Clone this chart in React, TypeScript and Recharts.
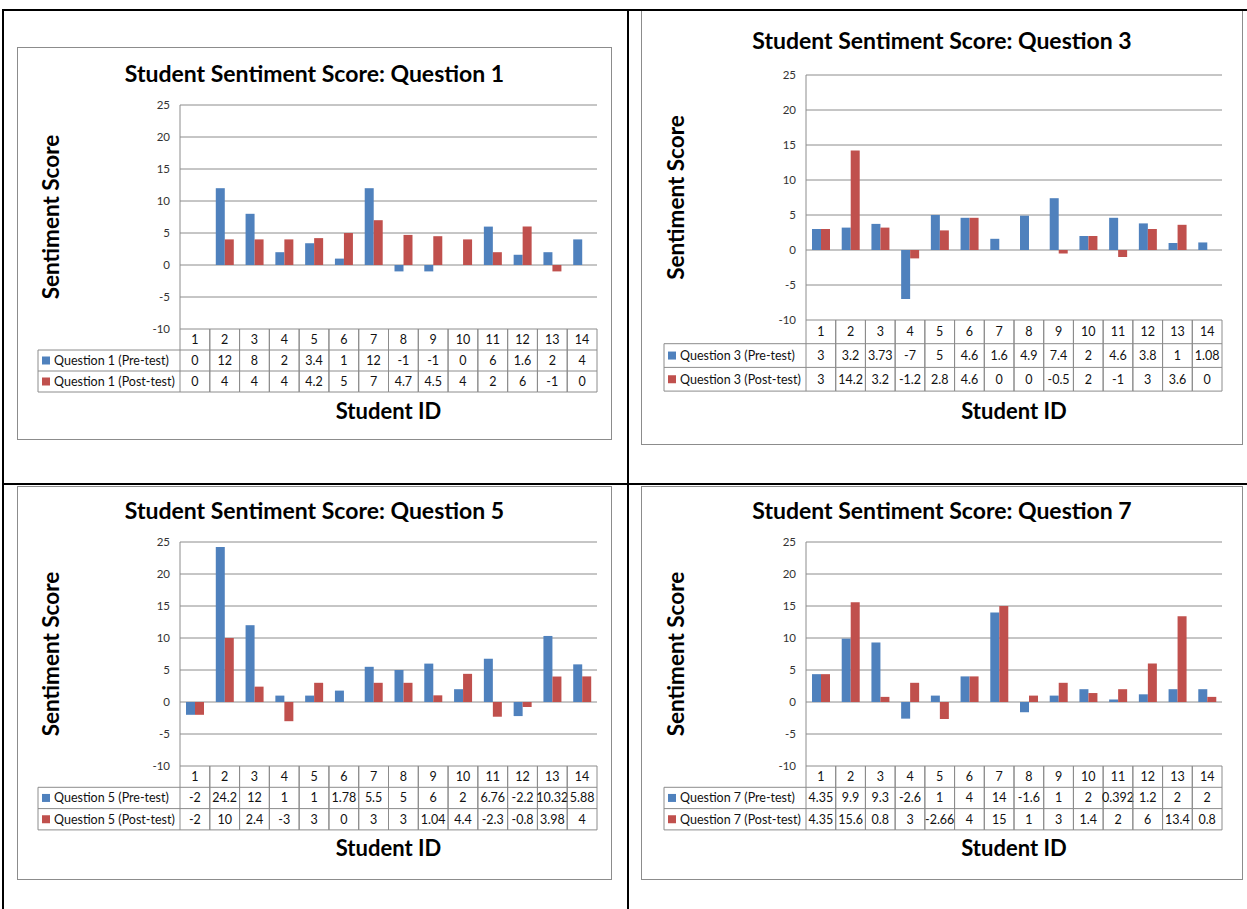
import { Bar, BarChart, CartesianGrid, Label, XAxis, YAxis } from "recharts";

const FONT = "Lato, 'Open Sans', sans-serif";
const GRAY = "#8c8c8c";
const BLUE = "#4F81BD";
const RED = "#C0504D";

const STUDENT_IDS = [1, 2, 3, 4, 5, 6, 7, 8, 9, 10, 11, 12, 13, 14];
const Y_TICKS = [-10, -5, 0, 5, 10, 15, 20, 25];

const Q1_PRE = [0, 12, 8, 2, 3.4, 1, 12, -1, -1, 0, 6, 1.6, 2, 4];
const Q1_POST = [0, 4, 4, 4, 4.2, 5, 7, 4.7, 4.5, 4, 2, 6, -1, 0];
const Q3_PRE = [3, 3.2, 3.73, -7, 5, 4.6, 1.6, 4.9, 7.4, 2, 4.6, 3.8, 1, 1.08];
const Q3_POST = [3, 14.2, 3.2, -1.2, 2.8, 4.6, 0, 0, -0.5, 2, -1, 3, 3.6, 0];
const Q5_PRE = [-2, 24.2, 12, 1, 1, 1.78, 5.5, 5, 6, 2, 6.76, -2.2, 10.32, 5.88];
const Q5_POST = [-2, 10, 2.4, -3, 3, 0, 3, 3, 1.04, 4.4, -2.3, -0.8, 3.98, 4];
const Q7_PRE = [4.35, 9.9, 9.3, -2.6, 1, 4, 14, -1.6, 1, 2, 0.392, 1.2, 2, 2];
const Q7_POST = [4.35, 15.6, 0.8, 3, -2.66, 4, 15, 1, 3, 1.4, 2, 6, 13.4, 0.8];

const Y_AXIS_W = 40;
const TABLE_FONT = 12.5;

interface Box { x: number; y: number; w: number; h: number }
interface Plot { left: number; top: number; right: number; bottom: number }
interface PanelSpec {
  question: number;
  pre: number[];
  post: number[];
  box: Box;
  plot: Plot;
  titleY: number;
  yTitleX: number;
  xTitleY: number;
  legendLeft: number;
  rowH: number;
}

const PANELS: PanelSpec[] = [
  {
    question: 1, pre: Q1_PRE, post: Q1_POST,
    box: { x: 17, y: 47, w: 595, h: 393 },
    plot: { left: 180, top: 105, right: 597, bottom: 329 },
    titleY: 73, yTitleX: 50, xTitleY: 410, legendLeft: 38, rowH: 21,
  },
  {
    question: 3, pre: Q3_PRE, post: Q3_POST,
    box: { x: 641, y: 9, w: 602, h: 436 },
    plot: { left: 806, top: 75, right: 1222, bottom: 320 },
    titleY: 40, yTitleX: 675, xTitleY: 410, legendLeft: 664, rowH: 23.7,
  },
  {
    question: 5, pre: Q5_PRE, post: Q5_POST,
    box: { x: 17, y: 486, w: 595, h: 394 },
    plot: { left: 180, top: 542, right: 597, bottom: 766 },
    titleY: 510, yTitleX: 50, xTitleY: 847, legendLeft: 38, rowH: 21.3,
  },
  {
    question: 7, pre: Q7_PRE, post: Q7_POST,
    box: { x: 641, y: 486, w: 602, h: 394 },
    plot: { left: 806, top: 542, right: 1222, bottom: 766 },
    titleY: 510, yTitleX: 675, xTitleY: 847, legendLeft: 664, rowH: 21.3,
  },
];

// x-axis tick drawn as one column of the Excel-style data table
function TableTick(props: any) {
  const { x, y, payload, rowH, legendX, question, pre, post, band } = props;
  const i = STUDENT_IDS.indexOf(payload.value);
  const half = band / 2;
  const left = x - half;
  const right = x + half;
  const bottom = y + rowH * 3;
  const cells = [payload.value, pre[i], post[i]];
  const names = [`Question ${question} (Pre-test)`, `Question ${question} (Post-test)`];
  return (
    <g>
      <line x1={left} y1={y} x2={left} y2={bottom} stroke={GRAY} />
      <line x1={right} y1={y} x2={right} y2={bottom} stroke={GRAY} />
      {[1, 2, 3].map((r) => (
        <line key={r} x1={left} y1={y + r * rowH} x2={right} y2={y + r * rowH} stroke={GRAY} />
      ))}
      {cells.map((v, r) => (
        <text key={r} x={x} y={y + r * rowH + rowH / 2} textAnchor="middle" dominantBaseline="central"
          fontSize={TABLE_FONT} fill="#111" fontFamily={FONT}>
          {String(v)}
        </text>
      ))}
      {i === 0 && (
        <g>
          {[1, 2, 3].map((r) => (
            <line key={r} x1={legendX} y1={y + r * rowH} x2={left} y2={y + r * rowH} stroke={GRAY} />
          ))}
          <line x1={legendX} y1={y + rowH} x2={legendX} y2={bottom} stroke={GRAY} />
          {names.map((n, r) => (
            <g key={n}>
              <rect x={legendX + 4} y={y + (r + 1.5) * rowH - 4} width={8} height={8} fill={r === 0 ? BLUE : RED} />
              <text x={legendX + 16} y={y + (r + 1.5) * rowH} dominantBaseline="central" fontSize={TABLE_FONT}
                fill="#111" fontFamily={FONT}>
                {n}
              </text>
            </g>
          ))}
        </g>
      )}
    </g>
  );
}

function Panel({ p }: { p: PanelSpec }) {
  const { box, plot } = p;
  const data = STUDENT_IDS.map((id, i) => ({ id, pre: p.pre[i], post: p.post[i] }));
  const band = (plot.right - plot.left) / STUDENT_IDS.length;
  const yTitle = { x: p.yTitleX - box.x, y: (plot.top + plot.bottom) / 2 - box.y };
  const xTitle = { x: (plot.left + plot.right) / 2 - box.x, y: p.xTitleY - box.y };
  return (
    <>
      <div style={{ position: "absolute", left: box.x, top: box.y, width: box.w, height: box.h, border: `1px solid ${GRAY}`, boxSizing: "border-box" }} />
      <div style={{ position: "absolute", left: box.x, top: box.y }}>
        <BarChart
          width={box.w}
          height={box.h}
          data={data}
          margin={{ top: plot.top - box.y, right: box.x + box.w - plot.right, bottom: 0, left: plot.left - box.x - Y_AXIS_W }}
          barGap={0}
          barSize={9}
        >
          <CartesianGrid vertical={false} stroke={GRAY} />
          <XAxis
            dataKey="id"
            interval={0}
            axisLine={false}
            tickLine={false}
            tickSize={0}
            tickMargin={0}
            height={box.y + box.h - plot.bottom}
            tick={<TableTick rowH={p.rowH} legendX={p.legendLeft - box.x} question={p.question} pre={p.pre} post={p.post} band={band} />}
          >
            <Label
              content={() => (
                <text x={xTitle.x} y={xTitle.y} textAnchor="middle" dominantBaseline="central" fontSize={22}
                  fontWeight={700} fontFamily={FONT} fill="#000">
                  Student ID
                </text>
              )}
            />
          </XAxis>
          <YAxis
            width={Y_AXIS_W}
            domain={[-10, 25]}
            ticks={Y_TICKS}
            interval={0}
            axisLine={{ stroke: GRAY }}
            tickLine={false}
            tickSize={0}
            tickMargin={10}
            tick={{ fontSize: 11.5, fill: "#333", fontFamily: FONT }}
          >
            <Label
              content={() => (
                <text x={yTitle.x} y={yTitle.y} transform={`rotate(-90 ${yTitle.x} ${yTitle.y})`} textAnchor="middle"
                  dominantBaseline="central" fontSize={22.5} fontWeight={700} fontFamily={FONT} fill="#000">
                  Sentiment Score
                </text>
              )}
            />
          </YAxis>
          <Bar dataKey="pre" name={`Question ${p.question} (Pre-test)`} fill={BLUE} isAnimationActive={false} />
          <Bar dataKey="post" name={`Question ${p.question} (Post-test)`} fill={RED} isAnimationActive={false} />
        </BarChart>
      </div>
      <div style={{ position: "absolute", left: box.x, width: box.w, top: p.titleY - 14, height: 28, lineHeight: "28px", textAlign: "center", fontSize: 23, fontWeight: 700, color: "#000", whiteSpace: "nowrap" }}>
        Student Sentiment Score: Question {p.question}
      </div>
    </>
  );
}

export default function App() {
  const line = { position: "absolute" as const, background: "#000" };
  return (
    <div style={{ position: "absolute", left: 0, top: 0, width: 1247, height: 909, background: "#fff", fontFamily: FONT, overflow: "hidden" }}>
      {PANELS.map((p) => (
        <Panel key={p.question} p={p} />
      ))}
      <div style={{ ...line, left: 2, top: 9, width: 1245, height: 2 }} />
      <div style={{ ...line, left: 2, top: 9, width: 2, height: 900 }} />
      <div style={{ ...line, left: 627, top: 9, width: 2, height: 900 }} />
      <div style={{ ...line, left: 2, top: 483, width: 1245, height: 2 }} />
    </div>
  );
}
